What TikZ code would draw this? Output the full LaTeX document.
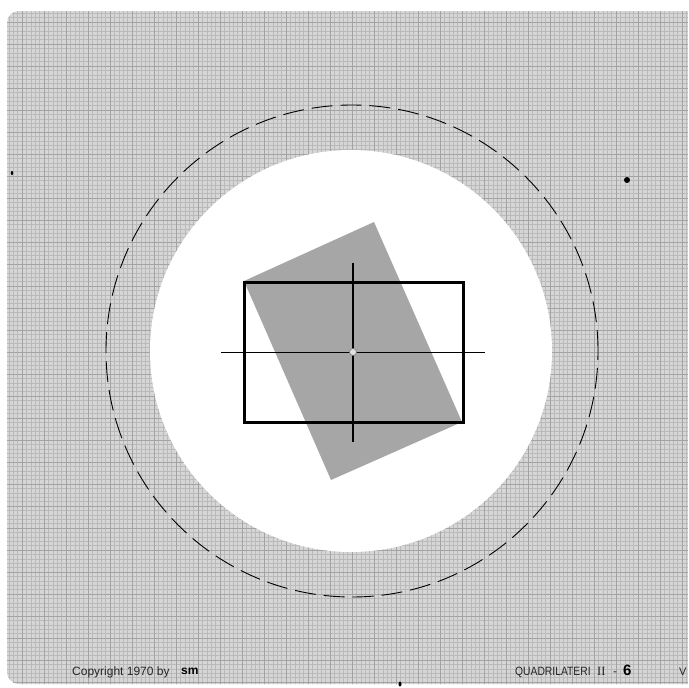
\documentclass[tikz,border=0pt]{standalone}
\usepackage{fontspec}
\setmainfont{Liberation Sans}
\newfontfamily\serifnum{Liberation Serif}
\begin{document}
\begin{tikzpicture}[x=1pt,y=-1pt,
  sheet/.style={fill=black!16},
  finegrid/.style={draw=black!27,line width=0.35pt},
  coarsegrid/.style={draw=black!36,line width=0.6pt},
  ring/.style={draw=black,line width=0.9pt,dash pattern=on 21pt off 8pt},
  tilted/.style={fill=black!35},
  frame/.style={draw=black,line width=3pt},
  axisthin/.style={draw=black,line width=1pt},
  axisthick/.style={draw=black,line width=2pt},
  label/.style={inner sep=0pt,anchor=base west,text=black!85}]
\useasboundingbox (0,0) rectangle (688,688);
\clip (0,0) rectangle (688,688);
\fill[white] (0,0) rectangle (688,688);
\begin{scope}
  \clip[rounded corners=12pt] (7,11) rectangle (720,684);
  \fill[sheet] (0,0) rectangle (688,688);
  \draw[finegrid,step=4.4pt] (0,0) grid (688,688);
  \draw[coarsegrid,step=22pt] (0,0) grid (688,688);
\end{scope}
% dashed ring and white disc
\draw[ring] (352,351) circle[radius=246pt];
\fill[white] (351,351) circle[radius=201pt];
% tilted grey rectangle
\fill[tilted] (244,281) -- (374,222) -- (462,422) -- (331,480) -- cycle;
% black rectangle
\draw[frame] (244,282) rectangle (463,422);
% crosshair
\coordinate (hl) at (221,352);
\coordinate (hr) at (485,352);
\coordinate (vt) at (353,263);
\coordinate (vb) at (353,442);
\draw[axisthin] (hl) -- (hr);
\draw[axisthick] (vt) -- (vb);
\node[circle,draw=black!55,fill=black!12,line width=0.5pt,minimum size=7pt,inner sep=0pt] (ctr) at (353,352) {};
% specks
\fill (627,180) circle[radius=3pt];
\fill (12,173) ellipse[x radius=1.3pt,y radius=2pt];
\fill (400,684) ellipse[x radius=1.5pt,y radius=2.5pt];
% texts
\node[label,font=\fontsize{12}{14}\selectfont] (copy) at (72,675) {Copyright 1970 by};
\node[label,font=\fontsize{12}{13}\bfseries,text=black] (logo) at (181,674) {sm};
\node[label,font=\fontsize{12}{13}\selectfont,xscale=0.86] (title) at (515,675) {QUADRILATERI};
\node[label,font=\fontsize{12.5}{13}\serifnum] (roman) at (597,675) {II};
\node[label,font=\fontsize{12}{13}\selectfont] (dash) at (613,675) {-};
\node[label,font=\fontsize{15}{16}\bfseries,text=black] (num) at (623,675) {6};
\node[label,font=\fontsize{11}{13}\selectfont] (cut) at (679,675) {V};
\end{tikzpicture}
\end{document}
